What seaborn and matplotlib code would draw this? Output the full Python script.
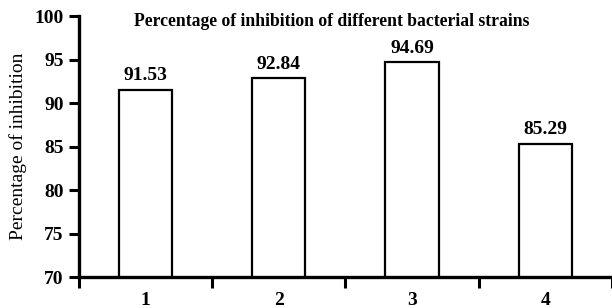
import matplotlib
matplotlib.use("Agg")
import matplotlib.pyplot as plt
import seaborn as sns
import pandas as pd

categories = ["1", "2", "3", "4"]
values = [91.53, 92.84, 94.69, 85.29]
yticks = [70, 75, 80, 85, 90, 95, 100]

sns.set_style("ticks")
plt.rcParams["font.family"] = ["Liberation Serif", "DejaVu Serif"]
plt.rcParams["text.color"] = "black"
plt.rcParams["axes.labelcolor"] = "black"
plt.rcParams["xtick.color"] = "black"
plt.rcParams["ytick.color"] = "black"
plt.rcParams["axes.edgecolor"] = "black"

df = pd.DataFrame({"strain": categories, "value": values})

fig = plt.figure(figsize=(6.12, 3.08), dpi=100)
ax = fig.add_axes([0.129, 0.1006, 0.871, 0.8474])

sns.barplot(data=df, x="strain", y="value", ax=ax, color="white",
            edgecolor="black", linewidth=1.6, width=0.4, saturation=1)

ax.set_ylim(70, 100)
ax.set_xlim(-0.5, 3.5)
ax.set_yticks(yticks)
ax.set_yticklabels([str(t) for t in yticks], fontsize=14, fontweight="bold")

# boundary ticks (major) and centered labels (minor)
ax.set_xticks([-0.5, 0.5, 1.5, 2.5, 3.5])
ax.set_xticklabels([])
ax.set_xticks(range(len(categories)), minor=True)
ax.set_xticklabels(categories, minor=True, fontsize=14, fontweight="bold")
ax.tick_params(axis="x", which="major", length=8, width=2.2, direction="out")
ax.tick_params(axis="x", which="minor", length=0, pad=11)
ax.tick_params(axis="y", which="major", length=7, width=2.2, direction="out", pad=4)

for s in ["top", "right"]:
    ax.spines[s].set_visible(False)
for s in ["left", "bottom"]:
    ax.spines[s].set_linewidth(2.4)

ax.set_xlabel("")
ax.set_ylabel("Percentage of inhibition", fontsize=14, labelpad=5)

for i, v in enumerate(values):
    ax.annotate(f"{v:.2f}", (i, v), xytext=(0, 4), textcoords="offset points",
                ha="center", va="bottom", fontsize=14, fontweight="bold")

ax.text(0.474, 1.01, "Percentage of inhibition of different bacterial strains",
        transform=ax.transAxes, ha="center", va="top", fontsize=12.7, fontweight="bold")

fig.savefig("out.png", dpi=100)
